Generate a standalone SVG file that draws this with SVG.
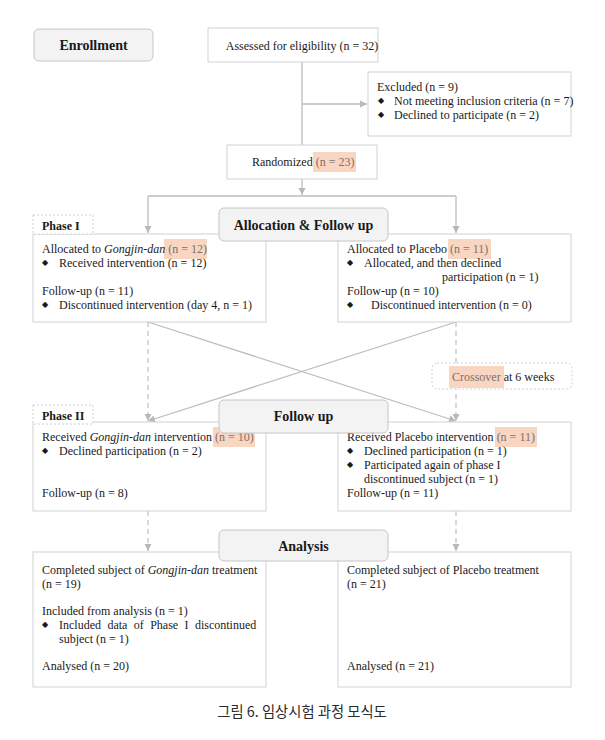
<svg xmlns="http://www.w3.org/2000/svg" width="605" height="740" viewBox="0 0 605 740">
<style>
text{font-family:"Liberation Serif","Times New Roman",serif;font-size:12px;fill:#1a1a1a}
.h{font-weight:bold;font-size:14px;text-anchor:middle}
.ph{font-weight:bold;font-size:12px}
.box{fill:#fff;stroke:#d2d2d2;stroke-width:1}
.hdr{fill:#f3f3f3;stroke:#c6c6c6;stroke-width:1}
.lbl{fill:#fff;stroke:#d0d0d0;stroke-width:1;stroke-dasharray:2,2}
.hl{fill:#f9d6c2}
.ht{fill:#7e6f68}
.b{font-family:"DejaVu Sans",sans-serif;font-size:8px}
.ln{stroke:#bdbdbd;stroke-width:1.3;fill:none}
.dl{stroke:#c4c4c4;stroke-width:1.3;fill:none;stroke-dasharray:5,4}
.cap{font-family:"Noto Sans CJK KR","Noto Sans",sans-serif;font-size:14.3px;fill:#2a2a2a;text-anchor:middle}
</style>
<defs>
<marker id="ah" markerWidth="8" markerHeight="8" refX="7" refY="4" orient="auto" markerUnits="userSpaceOnUse">
<path d="M0,0.5 L7,4 L0,7.5 Z" fill="#b8b8b8"/>
</marker>
</defs>
<rect width="605" height="740" fill="#fff"/>

<g id="connectors">
<line class="ln" x1="302" y1="62" x2="302" y2="145"/>
<line class="ln" x1="302" y1="104" x2="367" y2="104" marker-end="url(#ah)"/>
<line class="ln" x1="302" y1="179" x2="302" y2="195" marker-end="url(#ah)"/>
<line class="ln" x1="148" y1="196" x2="456" y2="196"/>
<line class="ln" x1="148" y1="196" x2="148" y2="233" marker-end="url(#ah)"/>
<line class="ln" x1="456" y1="196" x2="456" y2="233" marker-end="url(#ah)"/>
<line class="dl" x1="148" y1="322" x2="148" y2="421" marker-end="url(#ah)"/>
<line class="dl" x1="456" y1="322" x2="456" y2="421" marker-end="url(#ah)"/>
<line class="ln" x1="148" y1="322" x2="456" y2="421" marker-end="url(#ah)"/>
<line class="ln" x1="456" y1="322" x2="148" y2="421" marker-end="url(#ah)"/>
<line class="dl" x1="148" y1="511" x2="148" y2="551" marker-end="url(#ah)"/>
<line class="dl" x1="456" y1="511" x2="456" y2="551" marker-end="url(#ah)"/>
</g>

<g id="enrollment">
<rect class="hdr" x="34" y="29" width="119" height="32" rx="5"/>
<text class="h" x="93.5" y="50">Enrollment</text>
</g>

<g id="assessed">
<rect class="box" x="208" y="28" width="170" height="34"/>
<text x="302" y="49.5" text-anchor="middle">Assessed for eligibility (n = 32)</text>
</g>

<g id="excluded">
<rect class="box" x="368" y="72" width="203" height="64"/>
<text x="377" y="91">Excluded (n = 9)</text>
<text class="b" x="378" y="103">◆</text>
<text x="394" y="105">Not meeting inclusion criteria (n = 7)</text>
<text class="b" x="378" y="117">◆</text>
<text x="394" y="119">Declined to participate (n = 2)</text>
</g>

<g id="randomized">
<rect class="box" x="227" y="145" width="150" height="34"/>
<rect class="hl" x="313" y="152" width="43" height="20"/>
<text x="252" y="166">Randomized <tspan class="ht">(n = 23)</tspan></text>
</g>

<g id="phase1-gongjin">
<rect class="box" x="33" y="234" width="233" height="88"/>
<rect class="hl" x="164" y="239" width="43" height="20"/>
<text x="42" y="253">Allocated to <tspan font-style="italic">Gongjin-dan</tspan> <tspan class="ht">(n = 12)</tspan></text>
<text class="b" x="42" y="265">◆</text>
<text x="59" y="267">Received intervention (n = 12)</text>
<text x="42" y="295">Follow-up (n = 11)</text>
<text class="b" x="42" y="307">◆</text>
<text x="59" y="309">Discontinued intervention (day 4, n = 1)</text>
</g>

<g id="phase1-placebo">
<rect class="box" x="338" y="234" width="233" height="88"/>
<rect class="hl" x="448" y="239" width="43" height="20"/>
<text x="347" y="253">Allocated to Placebo <tspan class="ht">(n = 11)</tspan></text>
<text class="b" x="347" y="265">◆</text>
<text x="364" y="267">Allocated, and then declined</text>
<text x="442" y="281">participation (n = 1)</text>
<text x="347" y="295">Follow-up (n = 10)</text>
<text class="b" x="347" y="307">◆</text>
<text x="371" y="309">Discontinued intervention (n = 0)</text>
</g>

<g id="phase1-label">
<rect class="lbl" x="33" y="215" width="60" height="19"/>
<text class="ph" x="42" y="230">Phase I</text>
</g>

<g id="allocation">
<rect class="hdr" x="219" y="208" width="169" height="33" rx="5"/>
<text class="h" x="303.5" y="230">Allocation &amp; Follow up</text>
</g>

<g id="crossover">
<rect class="lbl" x="432" y="363" width="140" height="26" rx="5" stroke-dasharray="4,3"/>
<rect class="hl" x="449" y="366" width="55" height="22"/>
<text x="452" y="381"><tspan class="ht">Crossover</tspan> at 6 weeks</text>
</g>

<g id="phase2-gongjin">
<rect class="box" x="33" y="422" width="233" height="89"/>
<rect class="hl" x="213" y="427" width="42" height="20"/>
<text x="42" y="441">Received <tspan font-style="italic">Gongjin-dan</tspan> intervention <tspan class="ht">(n = 10)</tspan></text>
<text class="b" x="42" y="453">◆</text>
<text x="59" y="455">Declined participation (n = 2)</text>
<text x="42" y="497">Follow-up (n = 8)</text>
</g>

<g id="phase2-placebo">
<rect class="box" x="338" y="422" width="233" height="89"/>
<rect class="hl" x="495" y="427" width="42" height="20"/>
<text x="347" y="441">Received Placebo intervention <tspan class="ht">(n = 11)</tspan></text>
<text class="b" x="347" y="453">◆</text>
<text x="364" y="455">Declined participation (n = 1)</text>
<text class="b" x="347" y="467">◆</text>
<text x="364" y="469">Participated again of phase I</text>
<text x="364" y="483">discontinued subject (n = 1)</text>
<text x="347" y="497">Follow-up (n = 11)</text>
</g>

<g id="phase2-label">
<rect class="lbl" x="33" y="405" width="60" height="19"/>
<text class="ph" x="42" y="420">Phase II</text>
</g>

<g id="followup">
<rect class="hdr" x="219" y="400" width="169" height="33" rx="5"/>
<text class="h" x="303.5" y="421">Follow up</text>
</g>

<g id="analysis-gongjin">
<rect class="box" x="33" y="552" width="233" height="135"/>
<text x="42" y="574">Completed subject of <tspan font-style="italic">Gongjin-dan</tspan> treatment</text>
<text x="42" y="588">(n = 19)</text>
<text x="42" y="615">Included from analysis (n = 1)</text>
<text class="b" x="42" y="627">◆</text>
<text x="59" y="629" word-spacing="3.4">Included data of Phase I discontinued</text>
<text x="59" y="643">subject (n = 1)</text>
<text x="42" y="670">Analysed (n = 20)</text>
</g>

<g id="analysis-placebo">
<rect class="box" x="338" y="552" width="233" height="135"/>
<text x="347" y="574">Completed subject of Placebo treatment</text>
<text x="347" y="588">(n = 21)</text>
<text x="347" y="670">Analysed (n = 21)</text>
</g>

<g id="analysis">
<rect class="hdr" x="219" y="530" width="169" height="31" rx="5"/>
<text class="h" x="303.5" y="551">Analysis</text>
</g>

<text class="cap" x="302" y="717">그림 6. 임상시험 과정 모식도</text>
</svg>
